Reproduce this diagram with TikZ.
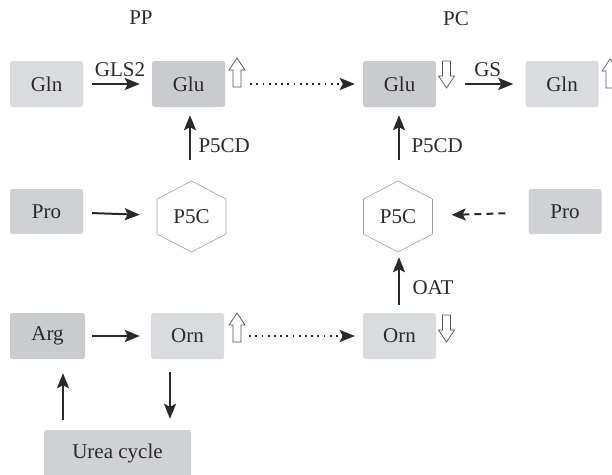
\documentclass[tikz,border=0pt]{standalone}
\usepackage{fontspec}
\setmainfont{Liberation Serif}
\usetikzlibrary{arrows.meta}
\definecolor{boxlight}{HTML}{DADBDE}
\definecolor{boxmid}{HTML}{D0D1D4}
\definecolor{boxdark}{HTML}{CACBCE}
\definecolor{ink}{HTML}{2A2A2A}
\definecolor{hexgray}{HTML}{A0A0A0}
\begin{document}
\begin{tikzpicture}[x=1pt,y=-1pt,
  font=\fontsize{21}{24}\selectfont, text=ink,
  metab/.style={rectangle, rounded corners=2.5pt, draw=none,
    minimum width=73pt, minimum height=46pt, inner sep=0pt},
  hexslot/.style={rectangle, minimum width=69pt, minimum height=71pt, inner sep=0pt},
  hexline/.style={draw=hexgray, line width=0.6pt, line join=miter},
  arr/.style={draw=ink, line width=2pt,
    -{Stealth[length=15pt,width=12pt,inset=3pt]}},
  dotarr/.style={draw=ink, line width=2pt, dash pattern=on 1.8pt off 4.4pt,
    -{Stealth[length=15pt,width=12pt,inset=3pt]}},
  dasharr/.style={draw=ink, line width=2pt, dash pattern=on 7pt off 5pt,
    -{Stealth[length=14pt,width=12pt,inset=3pt]}},
  hollow/.style={draw=ink!80, line width=0.7pt, fill=white, line join=miter},
  uparrow/.pic={\path[hollow] (0,0) -- (8,12) -- (4,12) -- (4,29) -- (-4,29)
      -- (-4,12) -- (-8,12) -- cycle;},
  downarrow/.pic={\path[hollow] (0,0) -- (8,-12) -- (4,-12) -- (4,-27) -- (-4,-27)
      -- (-4,-12) -- (-8,-12) -- cycle;}
]
\useasboundingbox (0,0) rectangle (612,474);

% compartment headings
\node (pp) at (141,18) {PP};
\node (pc) at (456,19) {PC};

% top row: glutamine / glutamate
\node[metab, fill=boxlight] (glnL) at (46.5,84) {Gln};
\node[metab, fill=boxdark]  (gluL) at (188.5,84) {Glu};
\node[metab, fill=boxdark]  (gluR) at (399.5,84) {Glu};
\node[metab, fill=boxlight] (glnR) at (562,84) {Gln};

% middle row: proline / P5C
\node[metab, fill=boxmid, minimum height=45pt] (proL) at (46.5,211.5) {Pro};
\node[metab, fill=boxmid, minimum height=45pt] (proR) at (565,211.5) {Pro};
\node[hexslot] (p5cL) at (191.5,216.5) {P5C};
\node[hexslot] (p5cR) at (398,216.5) {P5C};
\foreach \h in {p5cL,p5cR}
  \draw[hexline, shift={(\h)}] (0,-35.5) -- (34.5,-17.5) -- (34.5,17.5)
    -- (0,35.5) -- (-34.5,17.5) -- (-34.5,-17.5) -- cycle;

% bottom row: arginine / ornithine / urea cycle
\node[metab, fill=boxdark, minimum width=75pt] (argL) at (47.5,336) {Arg};
\node[metab, fill=boxlight] (ornL) at (187.5,336) {Orn};
\node[metab, fill=boxlight] (ornR) at (399.5,336) {Orn};
\node[metab, fill=boxmid, minimum width=147pt, minimum height=48pt] (urea) at (117.5,454) {};
\node (ureatxt) at (117.5,453) {Urea cycle};

% enzymatic steps
\draw[arr, shorten <=9pt, shorten >=12pt] (glnL) -- node[above=3pt, xshift=2.5pt] (gls2) {GLS2} (gluL);
\draw[arr, shorten <=29pt, shorten >=12pt] (gluR) -- node[above=3pt, xshift=7pt] (gs) {GS} (glnR);
\draw[arr, shorten <=9pt, shorten >=17pt] (proL) -- (p5cL);
\draw[dasharr, shorten <=23pt, shorten >=19pt] (proR) -- (p5cR);
\draw[arr, shorten <=21pt, shorten >=8pt] ([xshift=-1.5pt]p5cL.north) -- ([xshift=1.5pt]gluL.south);
\node[anchor=west] (p5cdL) at (195,146) {P5CD};
\draw[arr, shorten <=21pt, shorten >=8pt] ([xshift=1pt]p5cR.north) -- ([xshift=-0.5pt]gluR.south);
\node[anchor=west] (p5cdR) at (408,146) {P5CD};
\draw[arr, shorten <=8pt, shorten >=5pt] ([xshift=-0.5pt]ornR.north) -- ([xshift=1pt]p5cR.south);
\node[anchor=west] (oat) at (409,288) {OAT};
\draw[arr, shorten <=7pt, shorten >=11pt] (argL) -- (ornL);
\draw[arr, shorten <=13pt, shorten >=11pt] ([xshift=-17.5pt]ornL.south) -- ([xshift=-17.5pt]ornL.south |- urea.north);
\draw[arr, shorten <=10pt, shorten >=14pt] ([xshift=15.5pt]argL.south |- urea.north) -- ([xshift=15.5pt]argL.south);

% exchange between compartments
\draw[dotarr, shorten <=25pt, shorten >=8pt] (gluL) -- (gluR);
\draw[dotarr, shorten <=25pt, shorten >=8pt] (ornL) -- (ornR);

% level changes
\pic at (237,58) {uparrow};
\pic at (446.5,88) {downarrow};
\pic at (610,59) {uparrow};
\pic at (237,313) {uparrow};
\pic at (446.5,342) {downarrow};
\end{tikzpicture}
\end{document}
